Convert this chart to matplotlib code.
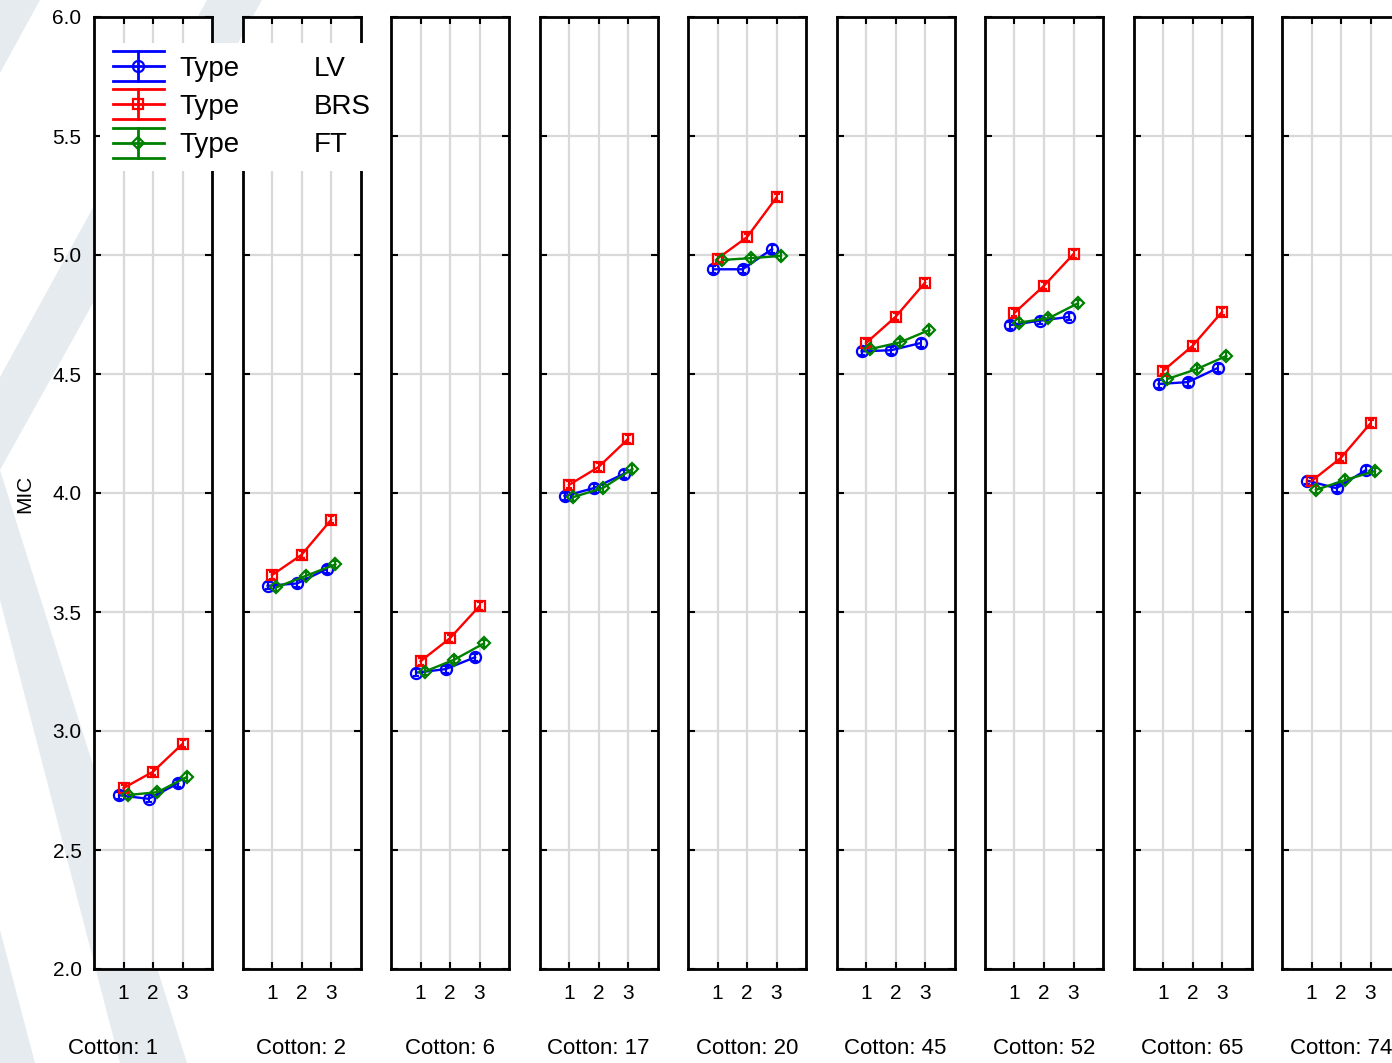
import matplotlib
matplotlib.use('Agg')
import numpy as np
import matplotlib.pyplot as plt
from matplotlib.patches import Polygon, Rectangle
from matplotlib.lines import Line2D
from matplotlib.legend_handler import HandlerBase

plt.rcParams['font.family'] = ['Liberation Sans', 'DejaVu Sans']

# ---------------- data ----------------
cottons = ['1', '2', '6', '17', '20', '45', '52', '65', '74']
x_levels = [1, 2, 3]
x_ticklabels = ['1', '2', '3']
y_ticks = [2.0, 2.5, 3.0, 3.5, 4.0, 4.5, 5.0, 5.5, 6.0]
type_names = ['LV', 'BRS', 'FT']

mic_lv = [[2.730, 2.715, 2.780], [3.610, 3.620, 3.680], [3.245, 3.260, 3.310],
          [3.987, 4.021, 4.080], [4.940, 4.940, 5.025], [4.595, 4.600, 4.630],
          [4.705, 4.724, 4.740], [4.458, 4.466, 4.525], [4.052, 4.020, 4.097]]
mic_brs = [[2.760, 2.829, 2.946], [3.655, 3.740, 3.887], [3.293, 3.390, 3.525],
           [4.034, 4.109, 4.227], [4.985, 5.075, 5.242], [4.630, 4.740, 4.884],
           [4.757, 4.871, 5.004], [4.513, 4.618, 4.761], [4.050, 4.148, 4.293]]
mic_ft = [[2.731, 2.743, 2.807], [3.604, 3.652, 3.700], [3.250, 3.300, 3.368],
          [3.983, 4.021, 4.101], [4.979, 4.987, 4.996], [4.605, 4.633, 4.685],
          [4.716, 4.734, 4.797], [4.479, 4.521, 4.576], [4.013, 4.055, 4.092]]
mic_err = 0.015

# ---------------- styling ----------------
W, H = 1392, 1063
fig = plt.figure(figsize=(W / 100, H / 100), dpi=100)
fig.patch.set_facecolor('white')

def fx(px):
    return px / W

def fy(py):
    return 1 - py / H

# watermark stripes
wm = '#e6ebf0'
stripes = [
    [(0, 0), (40, 0), (0, 73)],
    [(207, 0), (262, 0), (0, 470), (0, 377)],
    [(0, 470), (0, 600), (120, 1063), (187, 1063)],
    [(0, 930), (0, 1063), (35, 1063)],
]
for poly in stripes:
    fig.patches.append(Polygon([(fx(a), fy(b)) for a, b in poly], closed=True,
                               transform=fig.transFigure, facecolor=wm,
                               edgecolor='none', zorder=-5))

series = [
    (mic_lv, 'blue', 'o', 8.0, -0.15),
    (mic_brs, 'red', 's', 7.5, 0.0),
    (mic_ft, 'green', 'D', 5.8, 0.15),
]

panel_left0 = 94
panel_step = 148.5
panel_w = 118
panel_top = 17
panel_bot = 969

for k, cot in enumerate(cottons):
    left = panel_left0 + k * panel_step
    ax = fig.add_axes([fx(left), fy(panel_bot), panel_w / W, (panel_bot - panel_top) / H])
    ax.set_facecolor('white')
    for data, col, mk, ms, off in series:
        xs = np.array(x_levels, dtype=float) + off
        ax.errorbar(xs, data[k], yerr=mic_err, color=col, marker=mk, ms=ms,
                    mfc='none', mec=col, mew=1.6, lw=1.7, elinewidth=1.5,
                    capsize=2.5, capthick=1.5, zorder=3)
    ax.set_xlim(0, 4)
    ax.set_ylim(2.0, 6.0)
    ax.set_xticks(x_levels)
    ax.set_xticklabels(x_ticklabels)
    ax.set_yticks(y_ticks)
    if k == 0:
        ax.set_yticklabels([f'{v:.1f}' for v in y_ticks])
    else:
        ax.set_yticklabels([])
    ax.tick_params(direction='in', length=5, width=1.5, top=True, right=True,
                   labelsize=15, color='black')
    ax.tick_params(axis='x', pad=11)
    ax.tick_params(axis='y', pad=9)
    ax.grid(True, color='#d9d9d9', lw=1.6, zorder=0)
    ax.set_axisbelow(True)
    for sp in ax.spines.values():
        sp.set_linewidth(2.0)
        sp.set_color('black')
    cx = 113 if k == 0 else left + panel_w / 2
    fig.text(fx(cx), fy(1049), f'Cotton: {cot}', ha='center', va='center', fontsize=16)

fig.text(fx(25), fy(494), 'MIC', rotation=90, ha='center', va='center', fontsize=15)

# ---------------- legend ----------------
class HandlerEB(HandlerBase):
    def create_artists(self, legend, orig_handle, xdescent, ydescent, width, height,
                       fontsize, trans):
        col = orig_handle.get_color()
        mk = orig_handle.get_marker()
        ms = orig_handle.get_markersize()
        x0 = -xdescent
        x1 = x0 + width
        xc = (x0 + x1) / 2
        cy = -ydescent + height / 2
        d = 10.8
        arts = []
        for dy in (-d, 0, d):
            arts.append(Line2D([x0, x1], [cy + dy, cy + dy], color=col, lw=2.0))
        arts.append(Line2D([xc, xc], [cy - d, cy + d], color=col, lw=2.0))
        arts.append(Line2D([xc], [cy], marker=mk, ms=ms, mfc='none', mec=col,
                           mew=1.6, ls='none'))
        for a in arts:
            a.set_transform(trans)
        return arts

handles = []
for data, col, mk, ms, off in series:
    handles.append(Line2D([], [], color=col, marker=mk, markersize=ms))
blanks = [Rectangle((0, 0), 1, 1, facecolor='none', edgecolor='none') for _ in range(3)]
labels = ['Type'] * 3 + type_names

leg = fig.legend(handles + blanks, labels, loc='upper left',
                 bbox_to_anchor=(fx(100), fy(43)), bbox_transform=fig.transFigure,
                 borderaxespad=0, ncol=2, fontsize=20, frameon=True, fancybox=False,
                 framealpha=1, facecolor='white', edgecolor='none',
                 handlelength=1.87, handletextpad=0.54, columnspacing=0.25,
                 labelspacing=0.45, borderpad=0.45,
                 handler_map={Line2D: HandlerEB()})
leg.set_zorder(20)

fig.savefig('out.png', dpi=100, facecolor='white')
